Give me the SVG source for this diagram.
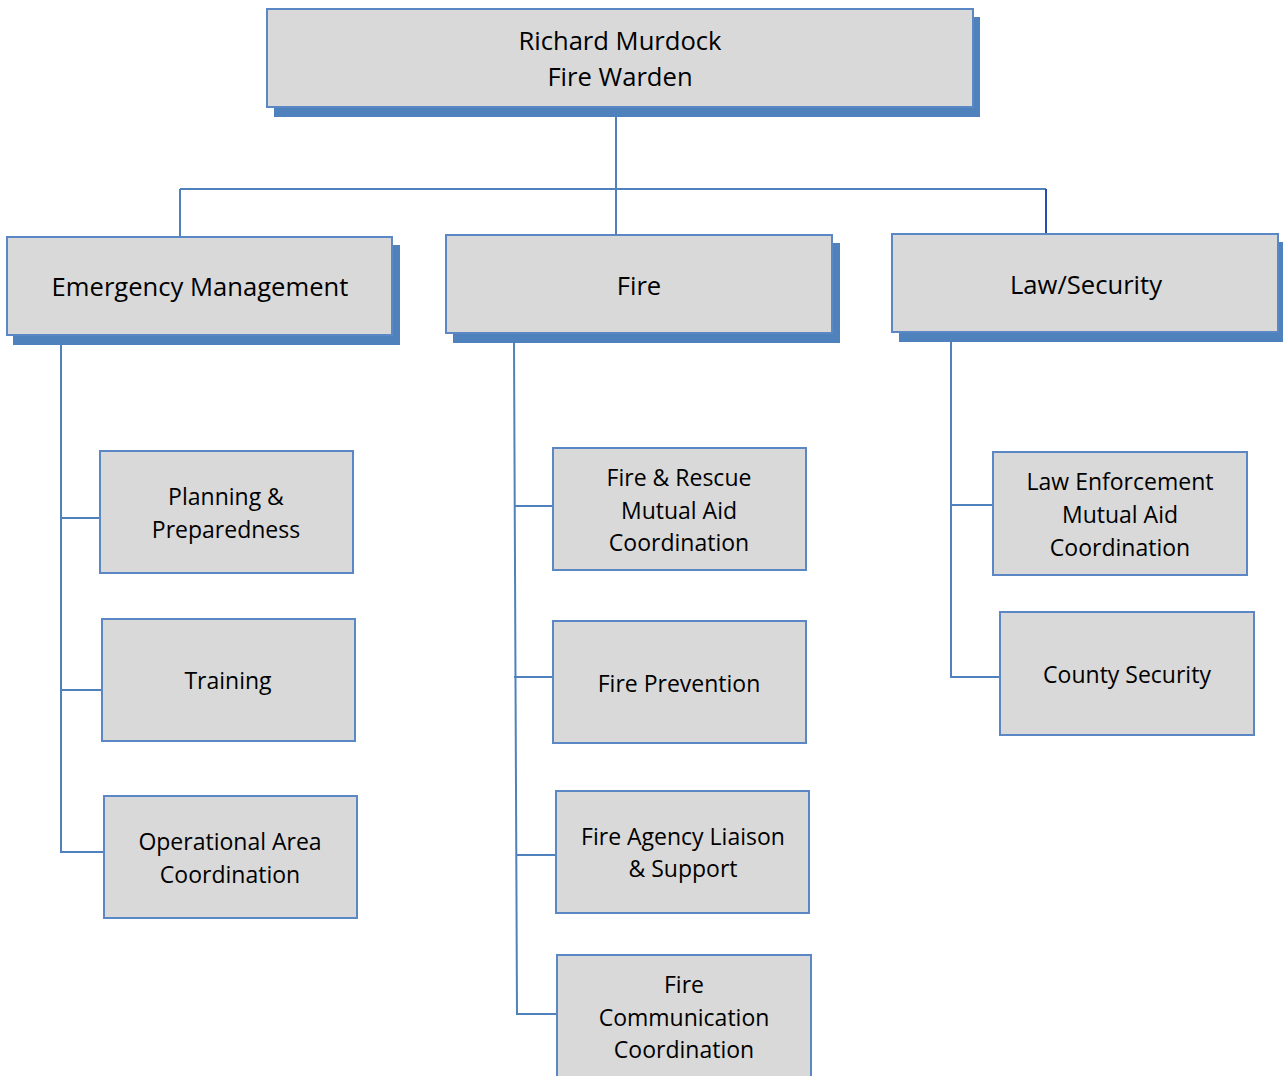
<svg xmlns="http://www.w3.org/2000/svg" width="1283" height="1076" viewBox="0 0 1283 1076">
<style>
.box{fill:#d9d9d9;stroke:#5b87c5;stroke-width:2}
.sh{fill:#4f81bd}
.ln{fill:none;stroke:#4f81bd;stroke-width:2}
text{font-family:"Open Sans","Liberation Sans",sans-serif;fill:#000;text-anchor:middle}
.t1{font-size:25.6px}
.t2{font-size:23px}
</style>
<rect width="1283" height="1076" fill="#fff"/>
<g id="connectors">
<path class="ln" d="M616 108V189M180 189H1046M180 189V237M616 189V235"/>
<path d="M1046 189V234" fill="none" stroke="#2a4bb0" stroke-width="2"/>
<path class="ln" d="M61 345V852H104M61 518H100M61 690H102"/>
<path class="ln" d="M514 343L517 1014H557M514 506H553M514 677H553M516 855H556"/>
<path class="ln" d="M951 342V677H1000M951 505H993"/>
</g>
<g id="n-top">
<rect class="sh" x="274" y="17" width="706" height="100"/>
<rect class="box" x="267" y="9" width="706" height="98"/>
<text class="t1" x="620" y="50">Richard Murdock</text>
<text class="t1" x="620" y="86">Fire Warden</text>
</g>
<g id="n-em">
<rect class="sh" x="13" y="245" width="387" height="100"/>
<rect class="box" x="7" y="237" width="385" height="98"/>
<text class="t1" x="200" y="296">Emergency Management</text>
</g>
<g id="n-fire">
<rect class="sh" x="453" y="243" width="387" height="100"/>
<rect class="box" x="446" y="235" width="386" height="98"/>
<text class="t1" x="639" y="295">Fire</text>
</g>
<g id="n-law">
<rect class="sh" x="899" y="242" width="384" height="100"/>
<rect class="box" x="892" y="234" width="386" height="98"/>
<text class="t1" x="1086" y="294">Law/Security</text>
</g>
<g id="n-plan">
<rect class="box" x="100" y="451" width="253" height="122"/>
<text class="t2" x="226" y="505">Planning &amp;</text>
<text class="t2" x="226" y="538">Preparedness</text>
</g>
<g id="n-train">
<rect class="box" x="102" y="619" width="253" height="122"/>
<text class="t2" x="228" y="689">Training</text>
</g>
<g id="n-oper">
<rect class="box" x="104" y="796" width="253" height="122"/>
<text class="t2" x="230" y="850">Operational Area</text>
<text class="t2" x="230" y="883">Coordination</text>
</g>
<g id="n-rescue">
<rect class="box" x="553" y="448" width="253" height="122"/>
<text class="t2" x="679" y="486">Fire &amp; Rescue</text>
<text class="t2" x="679" y="519">Mutual Aid</text>
<text class="t2" x="679" y="551">Coordination</text>
</g>
<g id="n-prev">
<rect class="box" x="553" y="621" width="253" height="122"/>
<text class="t2" x="679" y="692">Fire Prevention</text>
</g>
<g id="n-agency">
<rect class="box" x="556" y="791" width="253" height="122"/>
<text class="t2" x="683" y="845">Fire Agency Liaison</text>
<text class="t2" x="683" y="877">&amp; Support</text>
</g>
<g id="n-comm">
<rect class="box" x="557" y="955" width="254" height="126"/>
<text class="t2" x="684" y="993">Fire</text>
<text class="t2" x="684" y="1026">Communication</text>
<text class="t2" x="684" y="1058">Coordination</text>
</g>
<g id="n-lawenf">
<rect class="box" x="993" y="452" width="254" height="123"/>
<text class="t2" x="1120" y="490">Law Enforcement</text>
<text class="t2" x="1120" y="523">Mutual Aid</text>
<text class="t2" x="1120" y="556">Coordination</text>
</g>
<g id="n-county">
<rect class="box" x="1000" y="612" width="254" height="123"/>
<text class="t2" x="1127" y="683">County Security</text>
</g>
</svg>
